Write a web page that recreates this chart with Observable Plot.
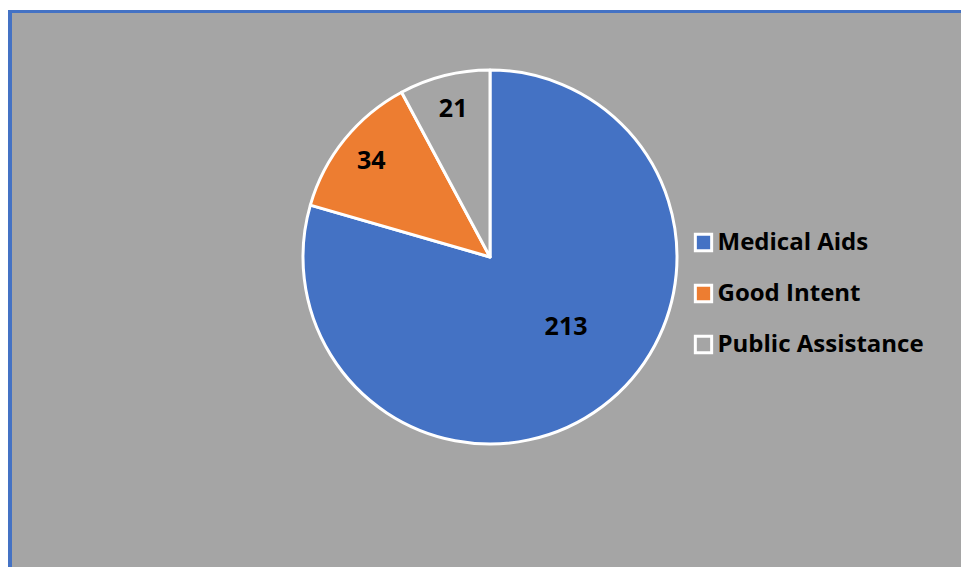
<!DOCTYPE html>
<html><head><meta charset="utf-8">
<script src="https://cdn.jsdelivr.net/npm/d3@7"></script>
<script src="https://cdn.jsdelivr.net/npm/@observablehq/plot@0.6"></script>
<style>
body{margin:0;background:#fff;overflow:hidden;}
#frame{position:absolute;left:8px;top:10px;width:953px;height:557px;border-left:4px solid #4472C4;border-top:3px solid #4472C4;background:#A5A5A5;box-sizing:border-box;}
#chart{position:absolute;left:0;top:0;}
</style></head><body><div id="frame"></div><div id="chart"></div>
<script>
const categories = ["Medical Aids", "Good Intent", "Public Assistance"];
const values = [213, 34, 21];
const colors = ["#4472C4", "#ED7D31", "#A5A5A5"];

// layout (pixels)
const W = 961, H = 567, cx = 490, cy = 257, R = 187;
const FONT = "'Open Sans', Lato, sans-serif";
const toX = px => (px - cx) / R;
const toY = py => (cy - py) / R;

const data = categories.map((c, i) => ({category: c, value: values[i]}));
const total = d3.sum(values);
const arcs = d3.pie().sort(null).value(d => d.value)(data);

const labels = arcs.map(a => {
  const share = a.data.value / total;
  const mid = (a.startAngle + a.endAngle) / 2 - (share > 0.5 ? 0.18 : 0);
  const rr = share > 0.5 ? 0.55 : 0.82;
  return {category: a.data.category, value: a.data.value, x: rr * Math.sin(mid), y: rr * Math.cos(mid)};
});

const legendRowsPx = [242, 293, 344];
const legend = categories.map((c, i) => ({category: c, y: toY(legendRowsPx[i])}));

const pieMark = (index, scales, values_, dimensions, context) => {
  const x0 = scales.x(0), y0 = scales.y(0);
  const r = scales.x(1) - scales.x(0);
  const arcGen = d3.arc().innerRadius(0).outerRadius(r);
  const g = d3.create("svg:g").attr("transform", `translate(${x0},${y0})`);
  g.selectAll("path").data(arcs).join("path")
    .attr("d", arcGen)
    .attr("fill", d => scales.color(d.data.category))
    .attr("stroke", "white")
    .attr("stroke-width", 3)
    .attr("stroke-linejoin", "round");
  return g.node();
};

const chart = Plot.plot({
  width: W, height: H, margin: 0,
  style: {background: "transparent", fontFamily: FONT},
  x: {domain: [-1, 1], range: [cx - R, cx + R], axis: null},
  y: {domain: [-1, 1], range: [cy + R, cy - R], axis: null},
  color: {domain: categories, range: colors},
  marks: [
    pieMark,
    Plot.text(labels, {x: "x", y: "y", text: d => String(d.value), fontSize: 25, fontWeight: "bold", fill: "black"}),
    Plot.dot(legend, {x: toX(703), y: "y", fill: "category", symbol: "square", r: 9.2, stroke: "white", strokeWidth: 3}),
    Plot.text(legend, {x: toX(717), y: "y", text: "category", textAnchor: "start", fontSize: 24, fontWeight: "bold", fill: "black"})
  ]
});
document.getElementById("chart").append(chart);
</script></body></html>
